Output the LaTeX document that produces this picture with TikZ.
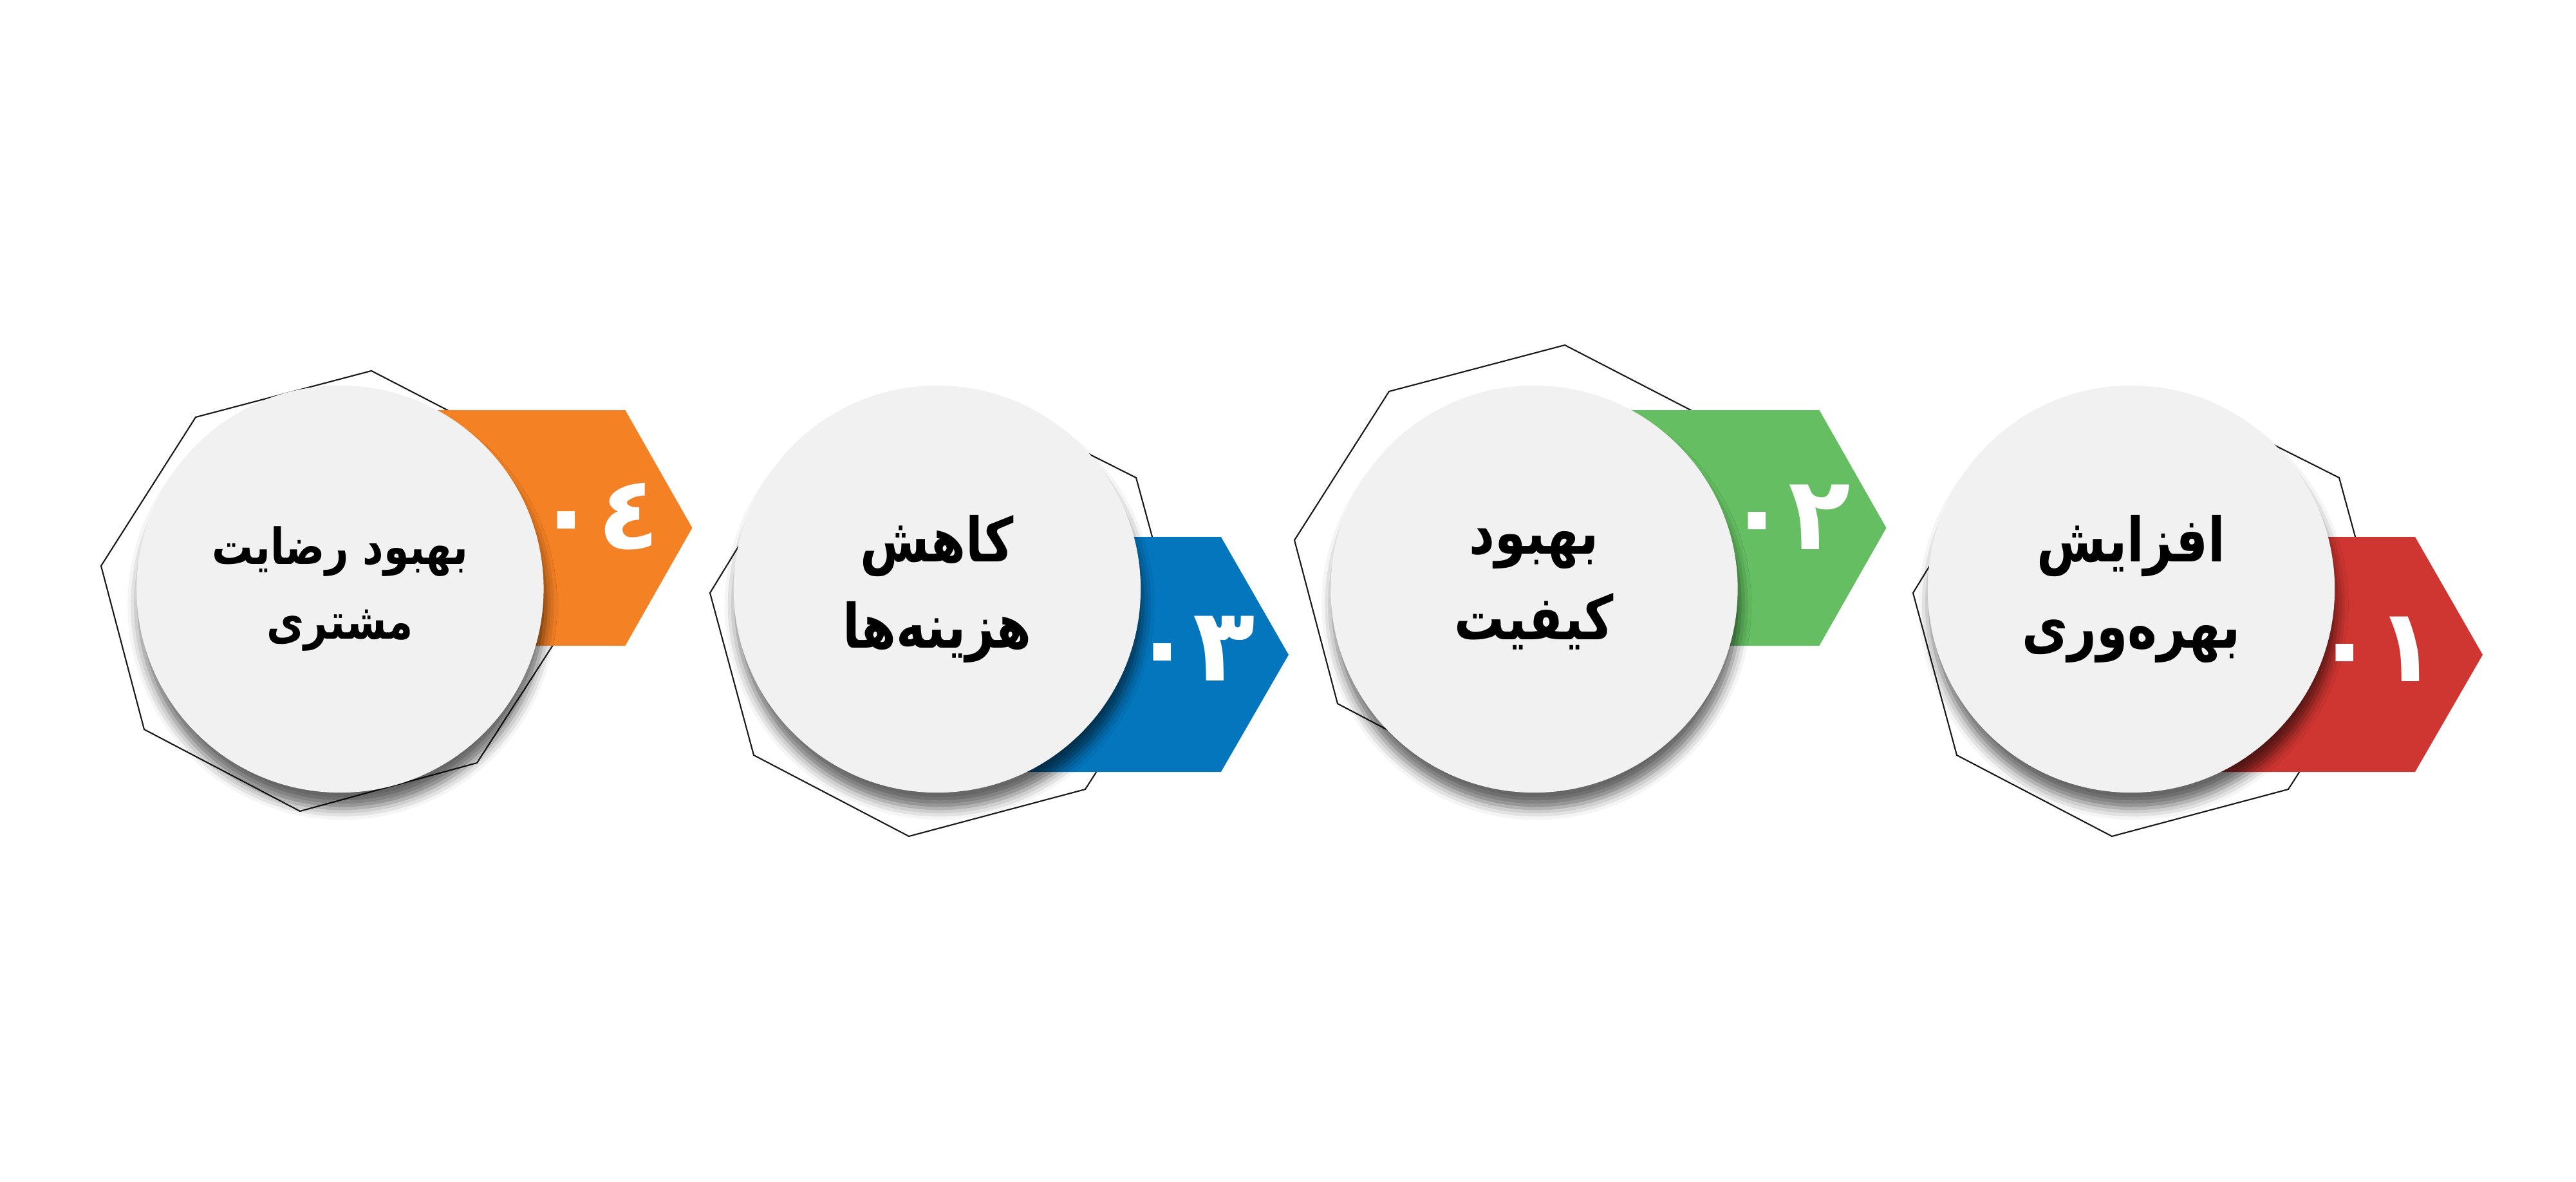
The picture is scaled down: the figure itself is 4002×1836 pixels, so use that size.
\documentclass[tikz,border=0pt]{standalone}
\usepackage{fontspec}
\newfontfamily\arfont[Script=Arabic, FakeStretch=0.82]{DejaVu Sans}
\newfontfamily\numfont[Script=Arabic]{DejaVu Sans}
\TeXXeTstate=1
\usetikzlibrary{positioning,backgrounds,shadows.blur}

\definecolor{tagorange}{HTML}{F48124}
\definecolor{tagblue}{HTML}{0476BD}
\definecolor{taggreen}{HTML}{65BF62}
\definecolor{tagred}{HTML}{D03631}
\definecolor{discgray}{HTML}{F0F1F0}

\begin{document}
\begin{tikzpicture}[x=0.01cm, y=-0.01cm, node distance=9.27cm,
disc/.style={circle, fill=discgray, minimum size=6.32cm, inner sep=0pt, align=center,
  font=\arfont\bfseries\fontsize{27}{38}\selectfont,
  blur shadow={shadow xshift=1pt, shadow yshift=-7pt, shadow blur radius=5pt, shadow opacity=60}},
num/.style={text=white, inner sep=0pt, font=\numfont\bfseries\fontsize{45}{45}\selectfont},
outline/.style={draw=black!90, line width=0.6pt}]

\useasboundingbox (0,0) rectangle (4002,1836);

\node[disc] (c1) at (3311,915) {\beginR افزایش\endR\\\beginR بهره^^^^200cوری\endR};
\node[disc, left of=c1] (c2) {\beginR بهبود\endR\\\beginR کیفیت\endR};
\node[disc, left of=c2] (c3) {\beginR کاهش\endR\\\beginR هزینه^^^^200cها\endR};
\node[disc, left of=c3, font=\arfont\bfseries\fontsize{22}{33}\selectfont] (c4) {\beginR بهبود رضایت\endR\\\beginR مشتری\endR};

\begin{pgfonlayer}{background}
% outlines behind the discs
\draw[outline] (577,576) -- (821,702) -- (890,954) -- (741,1185) -- (466,1260) -- (224,1133) -- (157,879) -- (304,648) -- cycle;
\draw[outline] (1765,742) -- (1834,995) -- (1686,1226) -- (1412,1299) -- (1171,1173) -- (1103,921) -- (1244,691) -- (1524,621) -- cycle;
\draw[outline] (2431,536) -- (2675,662) -- (2744,914) -- (2595,1145) -- (2320,1220) -- (2078,1093) -- (2011,839) -- (2158,608) -- cycle;
\draw[outline] (3634,742) -- (3703,995) -- (3555,1226) -- (3281,1299) -- (3040,1173) -- (2972,921) -- (3113,691) -- (3393,621) -- cycle;
% number tags
\fill[tagorange] (c4.center) ++(0,-278) -- ++(443,0) -- ++(104,183) -- ++(-104,183) -- ++(-443,0) -- cycle;
\fill[tagblue] (c3.center) ++(0,-81) -- ++(441,0) -- ++(105,183) -- ++(-105,182) -- ++(-441,0) -- cycle;
\fill[taggreen] (c2.center) ++(0,-278) -- ++(443,0) -- ++(104,183) -- ++(-104,183) -- ++(-443,0) -- cycle;
\fill[tagred] (c1.center) ++(0,-81) -- ++(441,0) -- ++(105,183) -- ++(-105,182) -- ++(-441,0) -- cycle;
\end{pgfonlayer}

\node[num] (n4) at ([shift={(400,-113)}]c4.center) {٠٤};
\node[num] (n3) at ([shift={(398,92)}]c3.center) {٠٣};
\node[num] (n2) at ([shift={(395,-112)}]c2.center) {٠٢};
\node[num] (n1) at ([shift={(380,93)}]c1.center) {٠١};

\end{tikzpicture}
\end{document}
